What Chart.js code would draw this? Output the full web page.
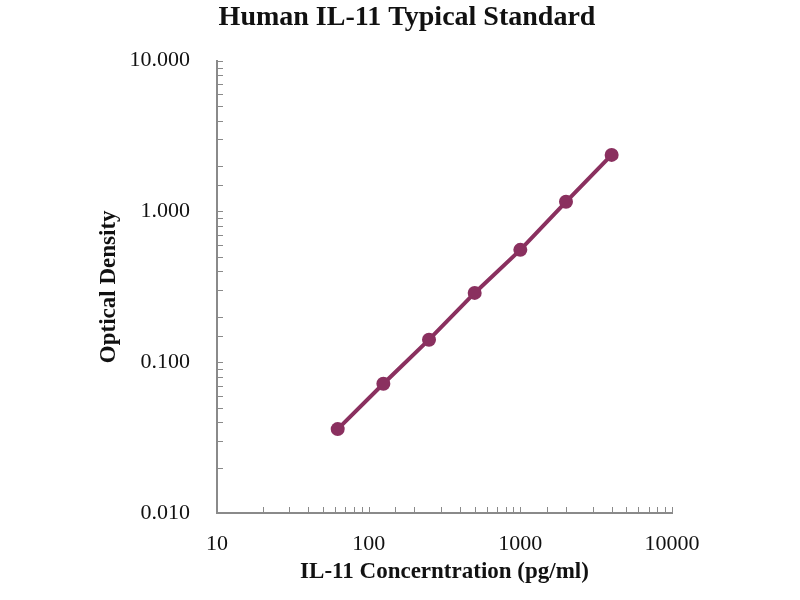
<!DOCTYPE html>
<html>
<head>
<meta charset="utf-8">
<script src="https://cdn.jsdelivr.net/npm/chart.js@4"></script>
<style>
  html, body { margin: 0; padding: 0; background: #fff; }
  #wrap { width: 800px; height: 600px; }
</style>
</head>
<body>
<div id="wrap"><canvas id="chart"></canvas></div>
<script>
// standard curve
const concentrations = [62.5, 125, 250, 500, 1000, 2000, 4000];
const opticalDensity = [0.036, 0.072, 0.141, 0.288, 0.556, 1.158, 2.37];
const xTickLabels = [10, 100, 1000, 10000];
const yTickLabels = [0.01, 0.1, 1, 10];

const curveColor = 'rgb(138, 48, 95)';
const axisColor = '#8a8a8a';
const serif = "'Liberation Serif', 'DejaVu Serif', serif";

function isMajor(v, majors) {
    return majors.some(m => Math.abs(Math.log10(v) - Math.log10(m)) < 1e-6);
}

// ticks pointing into the plot, like the original
const innerTicks = {
    id: 'innerTicks',
    afterDraw(chart) {
        const ctx = chart.ctx;
        const area = chart.chartArea;
        ctx.save();
        ctx.strokeStyle = axisColor;
        ctx.lineWidth = 1;
        chart.scales.x.ticks.forEach(t => {
            const px = Math.round(chart.scales.x.getPixelForValue(t.value)) + 0.5;
            ctx.beginPath();
            ctx.moveTo(px, area.bottom);
            ctx.lineTo(px, area.bottom - 6);
            ctx.stroke();
        });
        chart.scales.y.ticks.forEach(t => {
            const py = Math.round(chart.scales.y.getPixelForValue(t.value)) + 0.5;
            ctx.beginPath();
            ctx.moveTo(area.left, py);
            ctx.lineTo(area.left + 6, py);
            ctx.stroke();
        });
        ctx.restore();
    }
};

const points = concentrations.map((c, i) => ({ x: c, y: opticalDensity[i] }));

new Chart(document.getElementById('chart'), {
    type: 'scatter',
    data: {
        datasets: [{
            data: points,
            showLine: true,
            borderColor: curveColor,
            backgroundColor: curveColor,
            borderWidth: 4,
            pointRadius: 7,
            pointHoverRadius: 7,
            pointBorderWidth: 0
        }]
    },
    options: {
        responsive: true,
        maintainAspectRatio: false,
        animation: false,
        layout: { padding: { left: 91, right: 77, top: 0, bottom: 10 } },
        plugins: {
            legend: { display: false },
            tooltip: { enabled: false },
            title: {
                display: true,
                text: 'Human IL-11 Typical Standard',
                color: '#111',
                font: { family: serif, size: 28, weight: 'bold' },
                padding: { top: 1, bottom: 26 }
            }
        },
        scales: {
            x: {
                type: 'logarithmic',
                min: 10,
                max: 10000,
                afterFit: scale => { scale.height = 77; },
                grid: { display: false, drawTicks: false },
                border: { display: true, color: axisColor, width: 2 },
                ticks: {
                    color: '#111',
                    padding: 18,
                    maxRotation: 0,
                    autoSkip: false,
                    font: { family: serif, size: 22 },
                    callback: v => isMajor(v, xTickLabels) ? String(Math.round(v)) : ''
                },
                title: {
                    display: true,
                    text: 'IL-11 Concerntration (pg/ml)',
                    color: '#111',
                    font: { family: serif, size: 23, weight: 'bold' },
                    padding: { top: 4, bottom: 4 }
                }
            },
            y: {
                type: 'logarithmic',
                min: 0.01,
                max: 10,
                afterFit: scale => { scale.width = 126; },
                grid: { display: false, drawTicks: false },
                border: { display: true, color: axisColor, width: 2 },
                ticks: {
                    color: '#111',
                    padding: 27,
                    autoSkip: false,
                    font: { family: serif, size: 22 },
                    callback: v => isMajor(v, yTickLabels) ? Number(v).toFixed(3) : ''
                },
                title: {
                    display: true,
                    text: 'Optical Density',
                    color: '#111',
                    font: { family: serif, size: 23, weight: 'bold' },
                    padding: { top: 4, bottom: 4 }
                }
            },
            // empty right-hand space so the title sits where it does in the original
            spacer: {
                type: 'linear',
                position: 'right',
                afterFit: scale => { scale.width = 51; },
                grid: { display: false, drawTicks: false },
                border: { display: false },
                ticks: { display: false }
            }
        }
    },
    plugins: [innerTicks]
});
</script>
</body>
</html>
